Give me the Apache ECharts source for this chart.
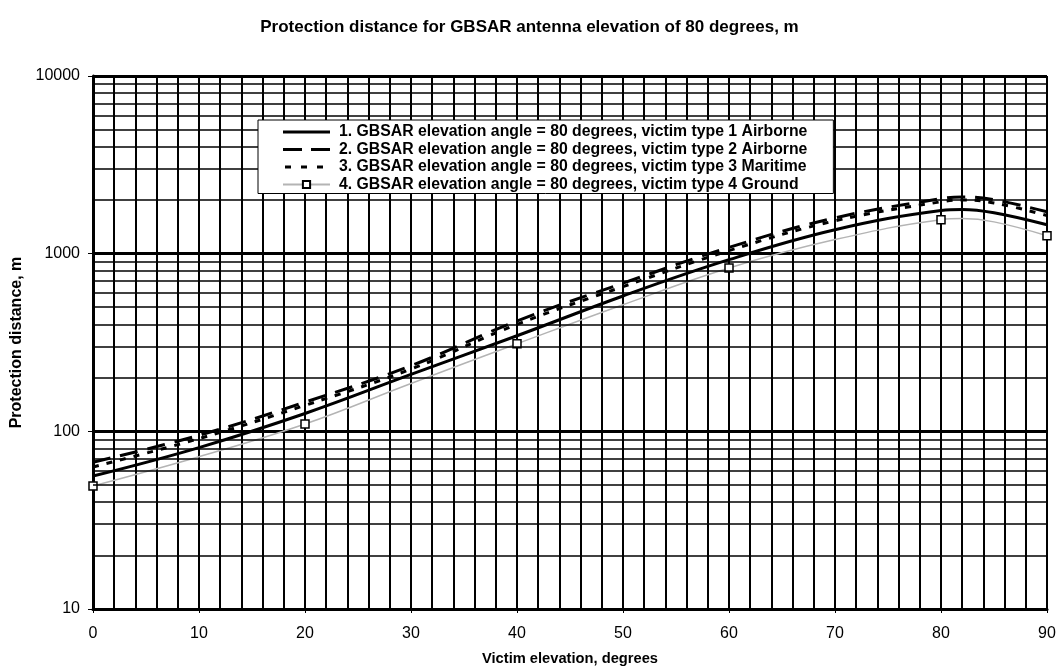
<!DOCTYPE html>
<html>
<head>
<meta charset="utf-8">
<script src="https://cdn.jsdelivr.net/npm/echarts@6/dist/echarts.min.js"></script>
<style>
  html, body { margin: 0; padding: 0; background: #fff; }
  #chart { width: 1059px; height: 671px; }
</style>
</head>
<body>
<div id="chart"></div>
<script>
// victim elevation, degrees
const elevations = [0, 10, 20, 30, 40, 50, 60, 70, 80, 82, 85, 90]

// protection distance, m
const type1Airborne = [56, 81, 126, 209, 345, 578, 925, 1364, 1750, 1775, 1700, 1455]
const type2Airborne = [67, 95, 146, 234, 418, 682, 1085, 1590, 2040, 2085, 2010, 1720]
const type3Maritime = [63, 91, 140, 224, 400, 652, 1040, 1530, 1960, 2005, 1930, 1640]
const type4Ground = [49.3, 72, 110, 186, 311, 516, 831, 1200, 1553, 1575, 1510, 1262]
const groundMarkers = [0, 20, 40, 60, 80, 90]

const yTicks = [10, 100, 1000, 10000]
const minorGrid = [20, 30, 40, 50, 60, 70, 80, 90,
  200, 300, 400, 500, 600, 700, 800, 900,
  2000, 3000, 4000, 5000, 6000, 7000, 8000, 9000]

const seriesNames = [
  '1. GBSAR elevation angle = 80 degrees, victim type 1 Airborne',
  '2. GBSAR elevation angle = 80 degrees, victim type 2 Airborne',
  '3. GBSAR elevation angle = 80 degrees, victim type 3 Maritime',
  '4. GBSAR elevation angle = 80 degrees, victim type 4 Ground'
]

// legend line samples (47 x 9 box, bar in the middle)
const legendIcons = [
  'path://M0,0M47,9M0,3H47V6H0Z',
  'path://M0,0M47,9M0,3H19V6H0ZM28,3H47V6H28Z',
  'path://M0,0M47,9M2,3H8V6H2ZM18,3H24V6H18ZM34,3H40V6H34Z',
  'inherit'
]

const pairs = vals => elevations.map((x, i) => [x, vals[i]])
const font = 'Arial, "Liberation Sans", sans-serif'

const chart = echarts.init(document.getElementById('chart'), null, { renderer: 'canvas' })

chart.setOption({
  animation: false,
  backgroundColor: '#fff',
  title: {
    text: 'Protection distance for GBSAR antenna elevation of 80 degrees, m',
    left: 'center',
    top: 14,
    textStyle: { fontFamily: font, fontSize: 17, fontWeight: 'bold', color: '#000' }
  },
  legend: {
    orient: 'vertical',
    left: 258,
    top: 120,
    z: 20,
    padding: [4, 26, 1, 24],
    itemGap: 1.5,
    itemWidth: 47,
    itemHeight: 9,
    backgroundColor: '#fff',
    borderColor: '#000',
    borderWidth: 1,
    borderRadius: 0,
    textStyle: {
      fontFamily: font, fontSize: 15.8, fontWeight: 'bold', color: '#000',
      lineHeight: 16, padding: [0, 0, 0, 4]
    },
    data: seriesNames.map((name, i) => ({ name, icon: legendIcons[i] }))
  },
  grid: { left: 93, right: 12, top: 76, bottom: 61 },
  xAxis: {
    type: 'value',
    min: 0,
    max: 90,
    interval: 10,
    name: 'Victim elevation, degrees',
    nameLocation: 'middle',
    nameGap: 42,
    nameTextStyle: { fontFamily: font, fontSize: 14.7, fontWeight: 'bold', color: '#000' },
    axisLine: { lineStyle: { color: '#000', width: 3 } },
    axisTick: { show: true, length: 4, lineStyle: { color: '#000', width: 1 } },
    axisLabel: { fontFamily: font, fontSize: 16, color: '#000', margin: 17 },
    splitLine: { show: true, lineStyle: { color: '#000', width: 2 } },
    minorTick: { show: false, splitNumber: 5 },
    minorSplitLine: { show: true, lineStyle: { color: '#000', width: 2 } }
  },
  yAxis: {
    type: 'log',
    logBase: 10,
    min: yTicks[0],
    max: yTicks[yTicks.length - 1],
    name: 'Protection distance, m',
    nameLocation: 'middle',
    nameGap: 66,
    nameTextStyle: { fontFamily: font, fontSize: 16, fontWeight: 'bold', color: '#000' },
    axisLine: { lineStyle: { color: '#000', width: 3 } },
    axisTick: { show: true, length: 5, lineStyle: { color: '#000', width: 1 } },
    axisLabel: { fontFamily: font, fontSize: 16, color: '#000', margin: 13, formatter: v => String(v) },
    splitLine: { show: true, lineStyle: { color: '#000', width: 3 } }
  },
  series: [
    {
      name: seriesNames[0],
      type: 'line',
      smooth: 0.4,
      showSymbol: false,
      symbol: 'none',
      z: 5,
      lineStyle: { color: '#000', width: 3, type: 'solid' },
      itemStyle: { color: '#000' },
      data: pairs(type1Airborne),
      markLine: {
        silent: true,
        symbol: 'none',
        animation: false,
        label: { show: false },
        lineStyle: { color: '#000', width: 1.5, type: 'solid' },
        data: minorGrid.map(v => ({ yAxis: v }))
      }
    },
    {
      name: seriesNames[1],
      type: 'line',
      smooth: 0.4,
      showSymbol: false,
      symbol: 'none',
      z: 5,
      lineStyle: { color: '#000', width: 3, type: [18, 10] },
      itemStyle: { color: '#000' },
      data: pairs(type2Airborne)
    },
    {
      name: seriesNames[2],
      type: 'line',
      smooth: 0.4,
      showSymbol: false,
      symbol: 'none',
      z: 5,
      lineStyle: { color: '#000', width: 3, type: [6, 8] },
      itemStyle: { color: '#000' },
      data: pairs(type3Maritime)
    },
    {
      name: seriesNames[3],
      type: 'line',
      smooth: 0.4,
      showSymbol: true,
      symbol: 'rect',
      symbolSize: 8,
      z: 4,
      lineStyle: { color: '#b4b4b4', width: 1.5 },
      itemStyle: { color: '#fff', borderColor: '#000', borderWidth: 1.5 },
      data: elevations.map((x, i) => groundMarkers.includes(x)
        ? [x, type4Ground[i]]
        : { value: [x, type4Ground[i]], symbol: 'none' })
    }
  ]
})
</script>
</body>
</html>
